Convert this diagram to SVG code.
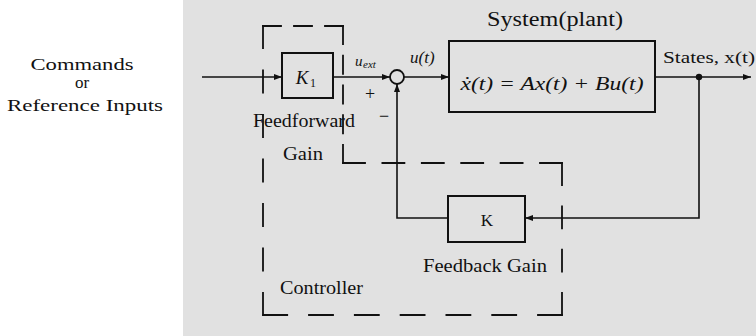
<svg xmlns="http://www.w3.org/2000/svg" width="756" height="336" viewBox="0 0 756 336">
<defs>
<marker id="arr" markerWidth="8" markerHeight="6" refX="8" refY="3" orient="auto" markerUnits="userSpaceOnUse">
<path d="M0,0 L8,3 L0,6 Z" fill="#111"/>
</marker>
</defs>
<style>
.t{font-family:"Liberation Serif","DejaVu Serif",serif;fill:#111}
.i{font-style:italic}
.box{fill:none;stroke:#111;stroke-width:2}
.ln{fill:none;stroke:#111;stroke-width:1.6}
.dash{fill:none;stroke:#111;stroke-width:1.8;stroke-linecap:square}
</style>
<rect x="0" y="0" width="756" height="336" fill="#ffffff"/>
<rect x="183" y="0" width="573" height="336" fill="#e1e1e1"/>

<g id="label-commands">
<text class="t" x="82" y="70" font-size="17" text-anchor="middle" textLength="103" lengthAdjust="spacingAndGlyphs">Commands</text>
<text class="t" x="82" y="88" font-size="17" text-anchor="middle">or</text>
<text class="t" x="85" y="111" font-size="17" text-anchor="middle" textLength="156" lengthAdjust="spacingAndGlyphs">Reference Inputs</text>
</g>

<g id="controller">
<line class="dash" x1="263" y1="26" x2="343" y2="26" stroke-dasharray="18 13"/>
<line class="dash" x1="343" y1="26" x2="343" y2="163" stroke-dasharray="18 11.75"/>
<line class="dash" x1="343" y1="163" x2="562" y2="163" stroke-dasharray="22 17.4"/>
<line class="dash" x1="562" y1="163" x2="562" y2="315" stroke-dasharray="22 21.3"/>
<line class="dash" x1="562" y1="315" x2="263" y2="315" stroke-dasharray="24 21.8"/>
<line class="dash" x1="263" y1="315" x2="263" y2="26" stroke-dasharray="22 22.5"/>
<text class="t" x="280" y="294" font-size="18" textLength="83" lengthAdjust="spacingAndGlyphs">Controller</text>
</g>

<g id="feedforward-gain">
<rect class="box" x="282" y="53" width="51" height="45"/>
<text class="t i" x="302" y="84" font-size="19" text-anchor="middle">K</text>
<text class="t" x="310" y="87" font-size="12">1</text>
<text class="t" x="253" y="127" font-size="19" textLength="102" lengthAdjust="spacingAndGlyphs">Feedforward</text>
<text class="t" x="283" y="160" font-size="19" textLength="40" lengthAdjust="spacingAndGlyphs">Gain</text>
</g>

<g id="summing-junction">
<circle cx="397" cy="77" r="7" fill="none" stroke="#111" stroke-width="1.8"/>
<text class="t" x="370" y="100" font-size="18" text-anchor="middle">+</text>
<text class="t" x="384" y="122" font-size="18" text-anchor="middle">−</text>
</g>

<g id="plant">
<rect class="box" x="449" y="41" width="206" height="71"/>
<text class="t" x="555" y="26" font-size="20" text-anchor="middle" textLength="136" lengthAdjust="spacingAndGlyphs">System(plant)</text>
<text class="t i" x="552" y="90" font-size="19" text-anchor="middle" textLength="183" lengthAdjust="spacingAndGlyphs">ẋ(t) = Ax(t) + Bu(t)</text>
</g>

<g id="feedback-gain">
<rect class="box" x="448" y="196" width="77" height="46"/>
<text class="t" x="487" y="226" font-size="17" text-anchor="middle">K</text>
<text class="t" x="423" y="272" font-size="18" textLength="124" lengthAdjust="spacingAndGlyphs">Feedback Gain</text>
</g>

<g id="connectors">
<line class="ln" x1="202" y1="77" x2="282" y2="77" marker-end="url(#arr)"/>
<line class="ln" x1="333" y1="77" x2="390" y2="77" marker-end="url(#arr)"/>
<line class="ln" x1="404" y1="77" x2="449" y2="77" marker-end="url(#arr)"/>
<line class="ln" x1="655" y1="77" x2="751" y2="77" marker-end="url(#arr)"/>
<circle cx="699" cy="77" r="3.2" fill="#111"/>
<path class="ln" d="M699,77 V218 H525" marker-end="url(#arr)"/>
<path class="ln" d="M448,218 H397 V84" marker-end="url(#arr)"/>
<text class="t i" x="355" y="66" font-size="15">u</text>
<text class="t i" x="363" y="68" font-size="11">ext</text>
<text class="t i" x="410" y="63" font-size="17">u(t)</text>
<text class="t" x="663" y="63" font-size="16" textLength="92" lengthAdjust="spacingAndGlyphs">States, x(t)</text>
</g>
</svg>
